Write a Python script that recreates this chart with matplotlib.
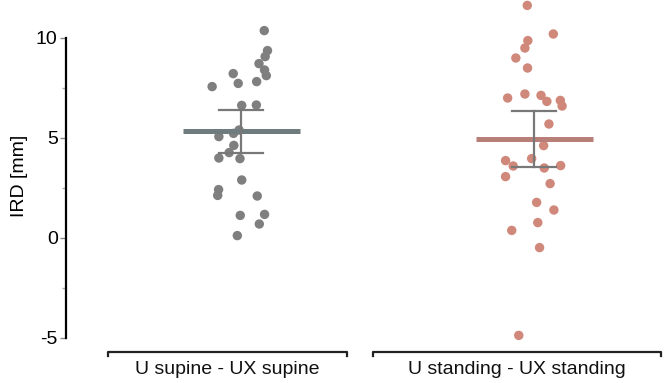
import matplotlib
matplotlib.use("Agg")
import matplotlib.pyplot as plt
from matplotlib.ticker import MultipleLocator
import numpy as np

plt.rcParams['font.family'] = ['Liberation Sans', 'DejaVu Sans']

categories = ["U supine - UX supine", "U standing - UX standing"]

supine_values = [10.37, 9.37, 9.07, 8.72, 8.40, 8.12, 8.22, 7.73, 7.82, 7.57, 6.63, 6.65,
                 5.40, 5.07, 5.23, 4.63, 4.27, 4.00, 3.97, 2.90, 2.42, 2.13, 2.10, 1.13,
                 1.18, 0.70, 0.12]
supine_jitter = [0.078, 0.089, 0.081, 0.060, 0.079, 0.085, -0.028, -0.011, 0.052, -0.100,
                 0.001, 0.051, -0.008, -0.077, -0.027, -0.026, -0.042, -0.077, -0.005,
                 0.001, -0.078, -0.081, 0.054, -0.004, 0.079, 0.061, -0.014]

standing_values = [11.63, 10.20, 9.87, 9.50, 9.00, 8.50, 7.00, 7.20, 7.13, 6.83, 6.88, 6.60,
                   5.70, 4.62, 3.97, 3.87, 3.60, 3.50, 3.62, 3.07, 2.72, 1.78, 1.40, 0.77,
                   0.38, -0.48, -4.87]
standing_jitter = [-0.024, 0.065, -0.022, -0.032, -0.063, -0.023, -0.091, -0.032, 0.023,
                   0.043, 0.089, 0.095, 0.050, 0.032, -0.009, -0.098, -0.072, 0.034, 0.090,
                   -0.098, 0.054, 0.008, 0.067, 0.012, -0.077, 0.018, -0.053]

ci_lower = [4.23, 3.57]
ci_upper = [6.40, 6.37]

point_colors = ["#7f7f7f", "#d0887a"]
mean_colors = ["#6f7c7d", "#b87e78"]
err_color = "#787878"

fig = plt.figure(figsize=(6.69, 3.83), dpi=100)
ax = fig.add_axes([66/669, 31/383, 603/669, 352/383])

groups = [(supine_values, supine_jitter), (standing_values, standing_jitter)]
for i, (vals, jit) in enumerate(groups):
    pos = i + 1
    xs = pos + np.array(jit)
    ax.scatter(xs, vals, s=46, color=point_colors[i], edgecolors='none', zorder=2)
    m = np.mean(vals)
    ax.plot([pos - 0.2, pos + 0.2], [m, m], color=mean_colors[i], lw=3.6,
            solid_capstyle='butt', zorder=3)
    ax.plot([pos, pos], [ci_lower[i], ci_upper[i]], color=err_color, lw=1.6, zorder=4)
    for yv in (ci_lower[i], ci_upper[i]):
        ax.plot([pos - 0.075, pos + 0.075], [yv, yv], color=err_color, lw=1.6, zorder=4)

ax.set_xlim(0.401, 2.460)
ax.set_ylim(-5.7, 11.9)

for s in ['top', 'right', 'bottom']:
    ax.spines[s].set_visible(False)
ax.spines['left'].set_bounds(-5, 10)
ax.spines['left'].set_linewidth(1.6)
ax.yaxis.set_major_locator(MultipleLocator(5))
ax.yaxis.set_minor_locator(MultipleLocator(2.5))
ax.tick_params(axis='y', which='major', length=4, width=1.0, color='#888888',
               labelsize=14, pad=2)
ax.tick_params(axis='y', which='minor', length=3, width=1.0, color='#aaaaaa')
ax.set_yticks([-5, 0, 5, 10])
ax.set_yticklabels(['-5', '0', '5', '10'])
ax.set_xticks([])
ax.set_ylabel("IRD [mm]", fontsize=14, labelpad=6)

# category brackets and labels
bracket_spans = [(0.544, 1.360), (1.449, 2.433)]
trans = ax.get_xaxis_transform()
for i, cat in enumerate(categories):
    x0, x1 = bracket_spans[i]
    ax.plot([x0, x0, x1, x1], [-0.012, 0.0, 0.0, -0.012], color='#222222', lw=1.6,
            transform=trans, clip_on=False)
    ax.text((x0 + x1) / 2, -0.05, cat, transform=trans, ha='center', va='center',
            fontsize=14, color='#111111')

fig.savefig("out.png", dpi=100)
